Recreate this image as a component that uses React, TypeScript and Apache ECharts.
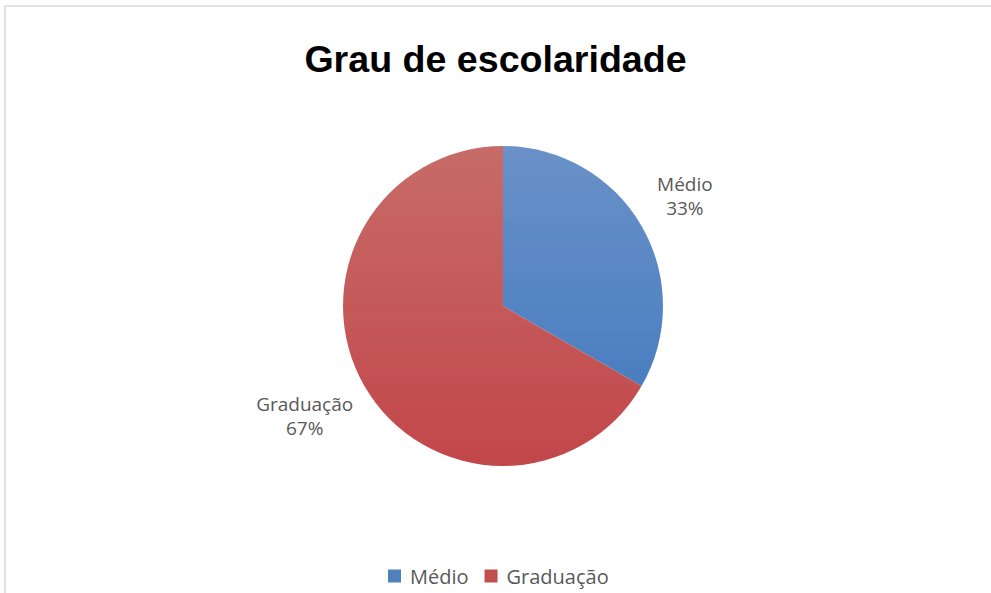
import React, { useEffect, useRef } from "react";
import * as echarts from "echarts";

const titleText = "Grau de escolaridade";
const categories = ["Médio", "Graduação"];
const values = [1, 2];
const topColors = ["#6a91c8", "#c76c68"];
const bottomColors = ["#4a7ec0", "#c2464a"];
const legendColors = ["#4f81bd", "#c0504d"];
const labelLineLengths = [50, 69];

export default function App() {
  const ref = useRef<HTMLDivElement>(null);
  useEffect(() => {
    if (!ref.current) return;
    const chart = echarts.init(ref.current, undefined, { renderer: "svg" });
    const data = categories.map((name, i) => ({
      name,
      value: values[i],
      itemStyle: {
        color: new echarts.graphic.LinearGradient(0, 0, 0, 1, [
          { offset: 0, color: topColors[i] },
          { offset: 1, color: bottomColors[i] },
        ]),
      },
      labelLine: { length: labelLineLengths[i] },
    }));
    chart.setOption({
      animation: false,
      backgroundColor: "#ffffff",
      graphic: [
        {
          type: "rect",
          shape: { x: 5, y: 6, width: 1000, height: 700 },
          style: { fill: "none", stroke: "#d9d9d9", lineWidth: 1.5 },
          silent: true,
        },
      ],
      title: {
        text: titleText,
        left: "center",
        top: 35,
        textStyle: {
          fontSize: 37.6,
          fontWeight: "bold",
          color: "#000000",
          fontFamily: "Liberation Sans, Arial, sans-serif",
        },
      },
      legend: {
        data: categories.map((name, i) => ({
          name,
          itemStyle: { color: legendColors[i] },
        })),
        left: 383,
        top: 561,
        icon: "rect",
        itemWidth: 13,
        itemHeight: 13,
        itemGap: 16,
        textStyle: {
          fontSize: 20,
          color: "#595959",
          fontFamily: "Open Sans, sans-serif",
          padding: [0, 0, 0, 4],
        },
      },
      series: [
        {
          type: "pie",
          center: [503, 306],
          radius: 160,
          startAngle: 90,
          clockwise: true,
          percentPrecision: 0,
          data,
          label: {
            show: true,
            position: "outside",
            formatter: "{b}\n{d}%",
            fontSize: 19,
            lineHeight: 24,
            color: "#595959",
            fontFamily: "Open Sans, sans-serif",
          },
          labelLine: {
            show: true,
            length: 55,
            length2: 0,
            lineStyle: { opacity: 0, width: 0 },
          },
          labelLayout: (params: any) => {
            const p = params.labelLinePoints;
            if (!p || !p[1]) return {};
            return {
              x: p[1][0],
              y: p[1][1] - 5,
              align: "center",
              verticalAlign: "middle",
            };
          },
          emphasis: { disabled: true },
        },
      ],
    });
    return () => chart.dispose();
  }, []);
  return (
    <div
      ref={ref}
      style={{ position: "fixed", left: 0, top: 0, width: 991, height: 593 }}
    />
  );
}
